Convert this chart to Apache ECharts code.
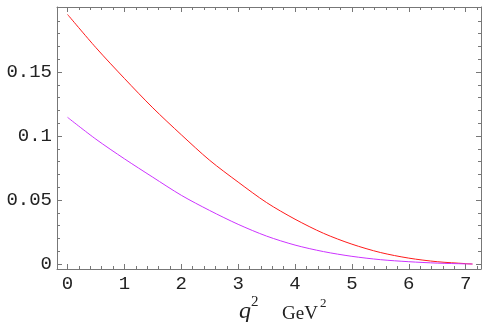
<!DOCTYPE html>
<html>
<head>
<meta charset="utf-8">
<script src="https://cdn.jsdelivr.net/npm/echarts@6/dist/echarts.min.js"></script>
<style>
  html, body { margin: 0; padding: 0; background: #fff; }
  #chart { width: 484px; height: 322px; }
</style>
</head>
<body>
<div id="chart"></div>
<script>
// values
const xValues = [0, 0.5, 1, 1.5, 2, 2.5, 3, 3.5, 4, 4.5, 5, 5.5, 6, 6.5, 7, 7.12]
const redValues = [0.195, 0.169, 0.145, 0.122, 0.101, 0.081, 0.064, 0.048, 0.035, 0.024, 0.0155, 0.009, 0.0046, 0.0018, 0.0003, 0]
const magentaValues = [0.1146, 0.0975, 0.0822, 0.0678, 0.0537, 0.0418, 0.031, 0.0218, 0.0148, 0.0097, 0.006, 0.0034, 0.0018, 0.0007, 0.0001, 0]

const xTicks = [0, 1, 2, 3, 4, 5, 6, 7]
const xMinorTicks = [0, 0.2, 0.4, 0.6, 0.8, 1, 1.2, 1.4, 1.6, 1.8, 2, 2.2, 2.4, 2.6, 2.8, 3, 3.2, 3.4, 3.6, 3.8, 4, 4.2, 4.4, 4.6, 4.8, 5, 5.2, 5.4, 5.6, 5.8, 6, 6.2, 6.4, 6.6, 6.8, 7, 7.2]
const yTicks = [0, 0.05, 0.1, 0.15]
const yMinorTicks = [0, 0.01, 0.02, 0.03, 0.04, 0.05, 0.06, 0.07, 0.08, 0.09, 0.1, 0.11, 0.12, 0.13, 0.14, 0.15, 0.16, 0.17, 0.18, 0.19]

const X_MIN = -0.185
const X_MAX = 7.27
const Y_MIN = -0.0039
const Y_MAX = 0.2008

const frameColor = '#777'
const labelFont = { fontFamily: 'Liberation Mono', fontSize: 19, color: '#222' }

function toPairs(xs, ys) {
  return xs.map((x, i) => [x, ys[i]])
}

function frameAxis(position, ticks, tickLen, showLine, showLabel, min, max) {
  return {
    type: 'value',
    position: position,
    min: min,
    max: max,
    axisLine: { show: showLine, onZero: false, lineStyle: { color: frameColor, width: 1 } },
    axisTick: { show: true, inside: true, length: tickLen, customValues: ticks, lineStyle: { color: frameColor, width: 1 } },
    axisLabel: showLabel
      ? Object.assign({ show: true, customValues: ticks, margin: 5 }, labelFont)
      : { show: false },
    splitLine: { show: false }
  }
}

function nameText(str, left, top, size, italic) {
  return {
    type: 'text',
    left: left,
    top: top,
    style: {
      text: str,
      fontFamily: 'Liberation Serif',
      fontStyle: italic ? 'italic' : 'normal',
      fontSize: size,
      fill: '#222'
    }
  }
}

const chart = echarts.init(document.getElementById('chart'), null, { renderer: 'canvas' })

chart.setOption({
  animation: false,
  grid: { left: 57, right: 3, top: 7, bottom: 53, outerBoundsMode: 'none' },
  xAxis: [
    frameAxis('bottom', xTicks, 5, true, true, X_MIN, X_MAX),
    frameAxis('bottom', xMinorTicks, 3, false, false, X_MIN, X_MAX),
    frameAxis('top', xTicks, 5, true, false, X_MIN, X_MAX),
    frameAxis('top', xMinorTicks, 3, false, false, X_MIN, X_MAX)
  ],
  yAxis: [
    frameAxis('left', yTicks, 5, true, true, Y_MIN, Y_MAX),
    frameAxis('left', yMinorTicks, 3, false, false, Y_MIN, Y_MAX),
    frameAxis('right', yTicks, 5, true, false, Y_MIN, Y_MAX),
    frameAxis('right', yMinorTicks, 3, false, false, Y_MIN, Y_MAX)
  ],
  // axis title: q² GeV²
  graphic: [
    nameText('q', 239, 300, 24, true),
    nameText('2', 251, 295, 15, false),
    nameText('GeV', 282, 305, 19, false),
    nameText('2', 320, 297, 13, false)
  ],
  series: [
    {
      type: 'line',
      xAxisIndex: 0,
      yAxisIndex: 0,
      data: toPairs(xValues, redValues),
      smooth: 0.3,
      showSymbol: false,
      lineStyle: { color: '#ff1a1a', width: 1 }
    },
    {
      type: 'line',
      xAxisIndex: 0,
      yAxisIndex: 0,
      data: toPairs(xValues, magentaValues),
      smooth: 0.3,
      showSymbol: false,
      lineStyle: { color: '#cc33ff', width: 1 }
    }
  ]
})
</script>
</body>
</html>
